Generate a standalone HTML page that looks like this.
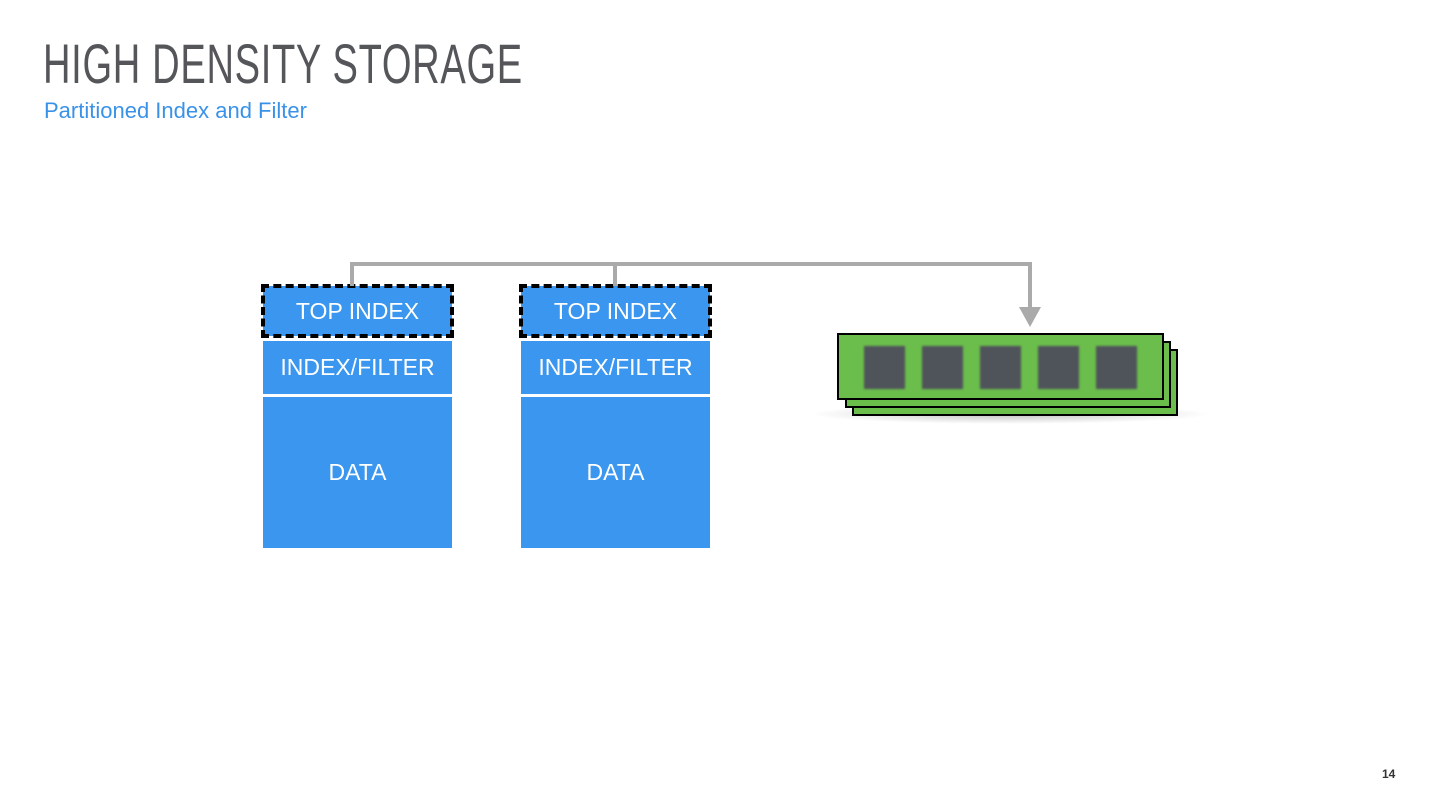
<!DOCTYPE html>
<html><head><style>
body{margin:0;width:1440px;height:810px;background:#fff;position:relative;overflow:hidden;font-family:"Liberation Sans",sans-serif}
.t{position:absolute;left:43px;top:36px;font-size:56px;color:#54565a;transform:scaleX(0.68);transform-origin:left top;letter-spacing:1px;white-space:nowrap;line-height:56px}
.s{position:absolute;left:44px;top:98px;font-size:22px;color:#3a92e8}
.b{position:absolute;background:#3a96ee;color:#fff;font-size:23px;display:flex;align-items:center;justify-content:center}
.d{outline:4px dashed #000;outline-offset:-2px}
.pg{position:absolute;left:1382px;top:767px;font-size:12px;font-weight:bold;color:#333}
</style></head><body>
<div class="t">HIGH DENSITY STORAGE</div>
<div class="s">Partitioned Index and Filter</div>
<div class="b d" style="left:263px;top:286px;width:189px;height:50px">TOP INDEX</div>
<div class="b" style="left:263px;top:341px;width:189px;height:53px">INDEX/FILTER</div>
<div class="b" style="left:263px;top:397px;width:189px;height:151px">DATA</div>
<div class="b d" style="left:521px;top:286px;width:189px;height:50px">TOP INDEX</div>
<div class="b" style="left:521px;top:341px;width:189px;height:53px">INDEX/FILTER</div>
<div class="b" style="left:521px;top:397px;width:189px;height:151px">DATA</div>
<svg width="1440" height="810" style="position:absolute;left:0;top:0">
<defs><filter id="bl"><feGaussianBlur stdDeviation="1"/></filter>
<radialGradient id="sh"><stop offset="0" stop-color="#000" stop-opacity=".25"/><stop offset="1" stop-color="#000" stop-opacity="0"/></radialGradient></defs>
<path d="M352 286V264H1030V310M615 264V286" fill="none" stroke="#aaa" stroke-width="4"/>
<polygon points="1019,307 1041,307 1030,327" fill="#aaa"/>
<ellipse cx="1010" cy="414" rx="200" ry="10" fill="url(#sh)"/>
<rect x="853" y="350" width="324" height="65" fill="#6bbd4c" stroke="#000" stroke-width="2"/>
<rect x="846" y="342" width="324" height="65" fill="#6bbd4c" stroke="#000" stroke-width="2"/>
<rect x="838" y="334" width="325" height="65" fill="#6bbd4c" stroke="#000" stroke-width="2"/>
<g fill="#50535a" filter="url(#bl)">
<rect x="864" y="346" width="41" height="43"/><rect x="922" y="346" width="41" height="43"/><rect x="980" y="346" width="41" height="43"/><rect x="1038" y="346" width="41" height="43"/><rect x="1096" y="346" width="41" height="43"/>
</g>
</svg>
<div class="pg">14</div>
</body></html>
